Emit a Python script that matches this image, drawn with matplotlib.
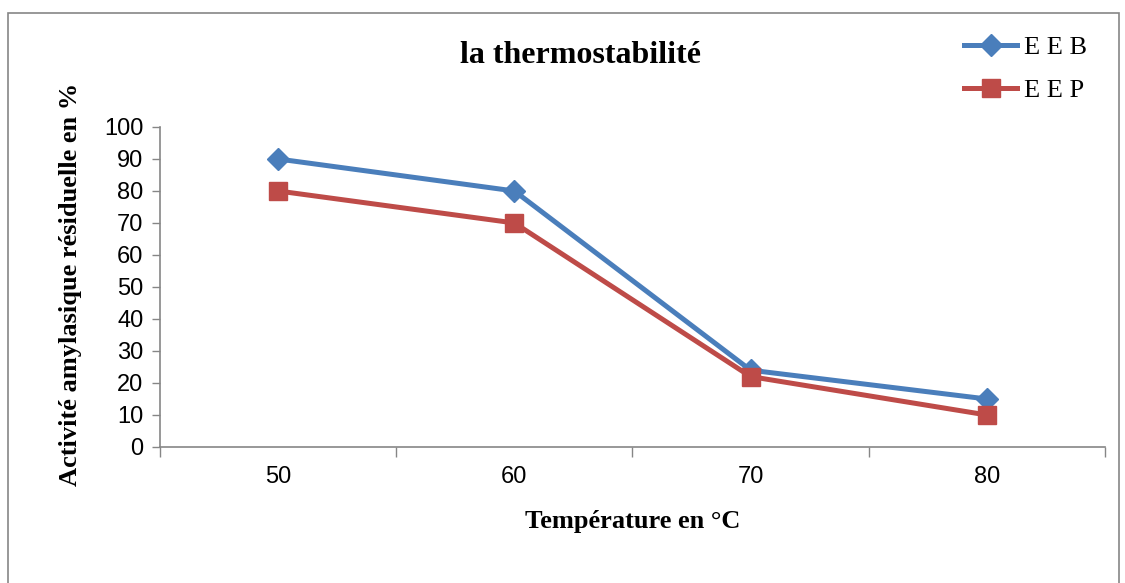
import matplotlib.pyplot as plt
from matplotlib.lines import Line2D
from matplotlib.patches import Rectangle

temps = ['50', '60', '70', '80']
eeb = [90, 80, 24, 15]
eep = [80, 70, 22, 10]

blue = '#4A7EBB'
red = '#BE4B48'
grey = '#868686'

fig = plt.figure(figsize=(11.25, 5.83), dpi=100)
ax = fig.add_axes([0.1422, 0.2333, 0.8400, 0.5489])

x = range(len(temps))
ax.plot(x, eeb, color=blue, lw=3.6, marker='D', ms=11, label='E E B')
ax.plot(x, eep, color=red, lw=3.6, marker='s', ms=13, label='E E P')

ax.set_xlim(-0.5, 3.5)
ax.set_ylim(0, 100)
ax.set_yticks(range(0, 101, 10))
ax.set_xticks(x)
ax.set_xticklabels(temps)
ax.set_xticks([-0.5, 0.5, 1.5, 2.5, 3.5], minor=True)
ax.tick_params(axis='x', which='major', length=0, pad=14)
ax.tick_params(axis='x', which='minor', length=7, color=grey, width=1)
ax.tick_params(axis='y', length=6, color=grey, width=1, pad=6)
for lab in ax.get_xticklabels() + ax.get_yticklabels():
    lab.set_fontfamily('Liberation Sans')
    lab.set_fontsize(17)

for s in ['top', 'right']:
    ax.spines[s].set_visible(False)
for s in ['left', 'bottom']:
    ax.spines[s].set_color(grey)
    ax.spines[s].set_linewidth(1.2)

serif = 'Liberation Serif'
fig.text(0.516, 0.905, 'la thermostabilité', ha='center', va='center',
         fontsize=23, fontweight='bold', family=serif)
fig.text(0.562, 0.105, 'Température en °C', ha='center', va='center',
         fontsize=19, fontweight='bold', family=serif)
fig.text(0.063, 0.512, 'Activité amylasique résiduelle en %', ha='center', va='center',
         rotation=90, fontsize=19, fontweight='bold', family=serif)

handles = [Line2D([], [], color=blue, lw=3.6, marker='D', ms=11),
           Line2D([], [], color=red, lw=3.6, marker='s', ms=13)]
fig.legend(handles, ['E E B', 'E E P'], loc='upper left',
           bbox_to_anchor=(0.836, 0.98), frameon=False,
           prop={'family': serif, 'size': 19}, handlelength=2.0,
           handletextpad=0.25, labelspacing=0.75)

fig.patches.append(Rectangle((0.007, -0.01), 0.988, 0.987, transform=fig.transFigure,
                             fill=False, edgecolor=grey, lw=1.2))

fig.savefig('out.png', dpi=100)
